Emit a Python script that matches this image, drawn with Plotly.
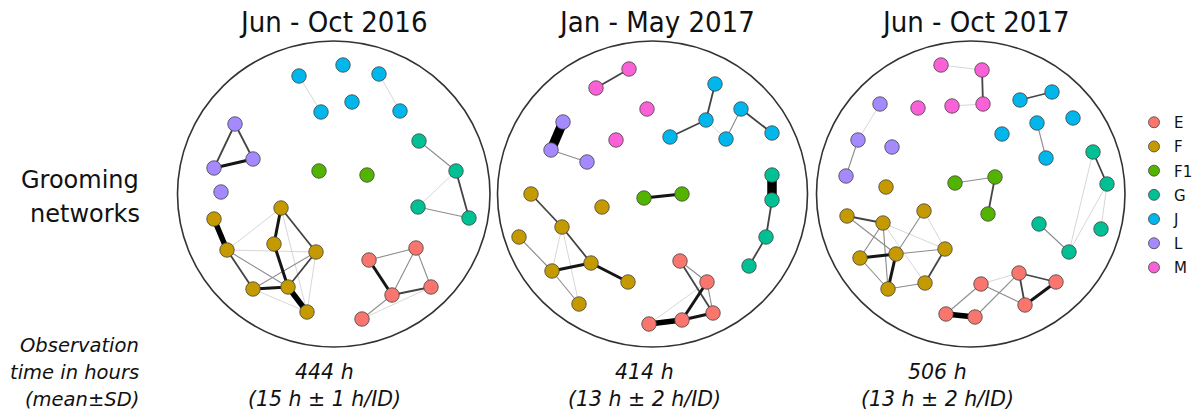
import plotly.graph_objects as go

# ---------------- data ----------------
groups = ["E", "F", "F1", "G", "J", "L", "M"]
group_colors = ["#F8766D", "#C49A00", "#53B400", "#00C094", "#00B6EB", "#A58AFF", "#FB61D7"]
periods = ["Jun - Oct 2016", "Jan - May 2017", "Jun - Oct 2017"]
hours_total = ["444 h", "414 h", "506 h"]
hours_per_id = ["(15 h ± 1 h/ID)", "(13 h ± 2 h/ID)", "(13 h ± 2 h/ID)"]

# network layout (pixel layout positions of each individual) : id -> (group, x, y)
p1_nodes = {
    "j1": ("J", 299, 76), "j2": ("J", 343, 65), "j3": ("J", 379, 74),
    "j4": ("J", 352, 102), "j5": ("J", 321, 112), "j6": ("J", 400, 111),
    "l1": ("L", 235, 124), "l2": ("L", 214, 168), "l3": ("L", 253, 159), "l4": ("L", 221, 192),
    "k1": ("F1", 319, 171), "k2": ("F1", 367, 175),
    "g1": ("G", 419, 141), "g2": ("G", 456, 171), "g3": ("G", 418, 207), "g4": ("G", 469, 218),
    "fa": ("F", 214, 219), "fb": ("F", 281, 208), "fc": ("F", 227, 250), "fd": ("F", 274, 244),
    "fe": ("F", 316, 252), "ff": ("F", 253, 289), "fg": ("F", 288, 287), "fh": ("F", 307, 312),
    "ea": ("E", 416, 248), "eb": ("E", 369, 260), "ec": ("E", 431, 287), "ed": ("E", 392, 295),
    "ee": ("E", 362, 319),
}
# edges: (from, to, grooming strength level 1..6)
p1_edges = [
    ("j1", "j5", 1), ("j3", "j6", 1),
    ("l1", "l2", 3), ("l1", "l3", 3), ("l2", "l3", 4),
    ("g1", "g2", 2), ("g2", "g3", 1), ("g2", "g4", 3), ("g3", "g4", 2),
    ("fa", "fc", 5), ("fc", "fb", 1), ("fc", "fe", 1), ("fc", "ff", 3), ("fc", "fg", 2),
    ("fb", "fd", 4), ("fb", "fe", 3), ("fb", "fh", 1), ("fd", "fg", 4), ("fg", "fh", 5),
    ("ff", "fg", 4), ("fe", "ff", 2), ("fe", "fg", 3), ("fe", "fh", 1), ("ff", "fh", 1),
    ("eb", "ea", 2), ("eb", "ed", 4), ("ea", "ed", 2), ("ea", "ec", 2), ("ed", "ec", 3),
    ("ed", "ee", 2), ("ee", "ec", 1),
]

p2_nodes = {
    "m1": ("M", 629, 69), "m2": ("M", 596, 88), "m3": ("M", 647, 109), "m4": ("M", 616, 140),
    "j1": ("J", 715, 84), "j2": ("J", 706, 120), "j3": ("J", 670, 137), "j4": ("J", 726, 139),
    "j5": ("J", 741, 109), "j6": ("J", 772, 133),
    "l1": ("L", 563, 122), "l2": ("L", 551, 150), "l3": ("L", 587, 162),
    "k1": ("F1", 644, 198), "k2": ("F1", 682, 194),
    "g1": ("G", 772, 175), "g2": ("G", 772, 200), "g3": ("G", 766, 237), "g4": ("G", 749, 266),
    "fa": ("F", 531, 194), "fb": ("F", 602, 207), "fc": ("F", 562, 227), "fd": ("F", 519, 237),
    "fe": ("F", 552, 271), "ff": ("F", 591, 263), "fg": ("F", 628, 282), "fh": ("F", 579, 304),
    "ea": ("E", 680, 261), "eb": ("E", 707, 282), "ec": ("E", 713, 313), "ed": ("E", 682, 320),
    "ee": ("E", 649, 324),
}
p2_edges = [
    ("m1", "m2", 3),
    ("j1", "j2", 3), ("j2", "j3", 3), ("j2", "j4", 1), ("j4", "j5", 2), ("j5", "j6", 3),
    ("l1", "l2", 6), ("l2", "l3", 2),
    ("k1", "k2", 4),
    ("g1", "g2", 6), ("g2", "g3", 3), ("g3", "g4", 3),
    ("fa", "fc", 3), ("fc", "fe", 1), ("fc", "ff", 3), ("fc", "fh", 1), ("fd", "fe", 2),
    ("fe", "ff", 4), ("ff", "fg", 4), ("fe", "fh", 2),
    ("ea", "eb", 2), ("ea", "ec", 3), ("eb", "ed", 4), ("eb", "ec", 2), ("eb", "ee", 1),
    ("ee", "ed", 5), ("ed", "ec", 4),
]

p3_nodes = {
    "m1": ("M", 941, 65), "m2": ("M", 982, 70), "m3": ("M", 952, 106), "m4": ("M", 983, 104),
    "m5": ("M", 918, 108),
    "j1": ("J", 1020, 100), "j2": ("J", 1052, 92), "j3": ("J", 1073, 118), "j4": ("J", 1037, 123),
    "j5": ("J", 1002, 134), "j6": ("J", 1046, 158),
    "l1": ("L", 880, 104), "l2": ("L", 858, 140), "l3": ("L", 892, 147), "l4": ("L", 846, 176),
    "k1": ("F1", 955, 183), "k2": ("F1", 995, 177), "k3": ("F1", 988, 214),
    "g1": ("G", 1093, 152), "g2": ("G", 1107, 184), "g3": ("G", 1101, 229), "g4": ("G", 1039, 224),
    "g5": ("G", 1069, 252),
    "fi": ("F", 886, 187), "fa": ("F", 847, 216), "fb": ("F", 883, 223), "fc": ("F", 924, 211),
    "fd": ("F", 860, 258), "fe": ("F", 896, 254), "ff": ("F", 945, 249), "fg": ("F", 888, 289),
    "fh": ("F", 925, 283),
    "ea": ("E", 1019, 273), "eb": ("E", 1056, 282), "ec": ("E", 981, 284), "ed": ("E", 1025, 305),
    "ee": ("E", 946, 314), "ef": ("E", 975, 317),
}
p3_edges = [
    ("m1", "m2", 1), ("m2", "m4", 3), ("m3", "m4", 1),
    ("j1", "j2", 3), ("j4", "j6", 2),
    ("l1", "l2", 1), ("l2", "l4", 2),
    ("k1", "k2", 2), ("k2", "k3", 3),
    ("g1", "g2", 3), ("g1", "g5", 1), ("g2", "g5", 1), ("g2", "g3", 1), ("g4", "g5", 2),
    ("fa", "fb", 3), ("fa", "fe", 2), ("fb", "fd", 2), ("fb", "ff", 1), ("fb", "fg", 2),
    ("fb", "fh", 1), ("fc", "fe", 2), ("fc", "ff", 1), ("fd", "fe", 4), ("fe", "fg", 4),
    ("fe", "ff", 2), ("ff", "fh", 3), ("fg", "fh", 2), ("fd", "fg", 2),
    ("ea", "eb", 3), ("ea", "ed", 3), ("eb", "ed", 4), ("ec", "ea", 1), ("ec", "ed", 2),
    ("ec", "ee", 2), ("ee", "ef", 5), ("ef", "ea", 2),
]

panels = [(p1_nodes, p1_edges), (p2_nodes, p2_edges), (p3_nodes, p3_edges)]

# ---------------- styles ----------------
W, H = 1195, 416
edge_width = {1: 0.7, 2: 1.1, 3: 1.8, 4: 3.0, 5: 5.5, 6: 9.5}
edge_color = {1: "#c6c6c6", 2: "#8c8c8c", 3: "#444444", 4: "#151515", 5: "#000000", 6: "#000000"}
circles = [(177.5, 41, 490, 347), (497.5, 41, 807.5, 347), (816.5, 41, 1125, 347)]
title_x = [333, 656, 975]
hours_x = [324, 644, 937]

fig = go.Figure()

for nodes, edges in panels:
    for lvl in sorted(edge_width):
        xs, ys = [], []
        for a, b, w in edges:
            if w == lvl:
                xs += [nodes[a][1], nodes[b][1], None]
                ys += [nodes[a][2], nodes[b][2], None]
        if xs:
            fig.add_trace(go.Scatter(
                x=xs, y=ys, mode="lines", showlegend=False, hoverinfo="skip",
                line=dict(width=edge_width[lvl], color=edge_color[lvl]),
            ))
    for g, col in zip(groups, group_colors):
        ids = [k for k, v in nodes.items() if v[0] == g]
        fig.add_trace(go.Scatter(
            x=[nodes[k][1] for k in ids], y=[nodes[k][2] for k in ids],
            mode="markers", showlegend=False, hoverinfo="skip",
            marker=dict(size=14.5, color=col, line=dict(width=0.8, color="#444444")),
        ))

# legend entries
for g, col in zip(groups, group_colors):
    fig.add_trace(go.Scatter(
        x=[None], y=[None], mode="markers", name=g, legendgroup=g,
        marker=dict(size=11, color=col, line=dict(width=0.8, color="#444444")),
    ))

shapes = [dict(type="circle", xref="x", yref="y", x0=c[0], y0=c[1], x1=c[2], y1=c[3],
               line=dict(color="#333333", width=1.6)) for c in circles]

ann = []
title_font = dict(family="Liberation Sans Narrow, DejaVu Sans Condensed, Arial Narrow, sans-serif",
                  size=29, color="#111111")
for t, x in zip(periods, title_x):
    ann.append(dict(text=t, x=x, y=22, xref="x", yref="y", showarrow=False,
                    xanchor="center", yanchor="middle", font=title_font))
left_font = dict(family="DejaVu Sans, Verdana, sans-serif", size=24, color="#111111")
ann.append(dict(text="Grooming", x=141, y=180, xref="x", yref="y", showarrow=False,
                xanchor="right", yanchor="middle", font=left_font))
ann.append(dict(text="networks", x=142, y=214, xref="x", yref="y", showarrow=False,
                xanchor="right", yanchor="middle", font=left_font))
it_font = dict(family="DejaVu Sans, Verdana, sans-serif", size=19.5, color="#111111")
for txt, y in zip(["Observation", "time in hours", "(mean±SD)"], [345, 372, 399]):
    ann.append(dict(text="<i>" + txt + "</i>", x=141, y=y, xref="x", yref="y", showarrow=False,
                    xanchor="right", yanchor="middle", font=it_font))
it_font2 = dict(family="DejaVu Sans, Verdana, sans-serif", size=20.5, color="#111111")
for a, b, x in zip(hours_total, hours_per_id, hours_x):
    ann.append(dict(text="<i>" + a + "</i>", x=x, y=372, xref="x", yref="y", showarrow=False,
                    xanchor="center", yanchor="middle", font=it_font2))
    ann.append(dict(text="<i>" + b + "</i>", x=x, y=399, xref="x", yref="y", showarrow=False,
                    xanchor="center", yanchor="middle", font=it_font2))

fig.update_layout(
    width=W, height=H, margin=dict(l=0, r=0, t=0, b=0, autoexpand=False),
    paper_bgcolor="white", plot_bgcolor="white",
    xaxis=dict(range=[0, W], visible=False, fixedrange=True),
    yaxis=dict(range=[H, 0], visible=False, fixedrange=True),
    shapes=shapes, annotations=ann,
    showlegend=True,
    legend=dict(x=1134 / W, y=1 - 106 / H, xanchor="left", yanchor="top",
                tracegroupgap=1.7, traceorder="grouped",
                font=dict(family="DejaVu Sans, Verdana, sans-serif", size=15, color="#111111"),
                bgcolor="rgba(0,0,0,0)", itemclick=False, itemdoubleclick=False),
)

fig.write_html("out.html")
